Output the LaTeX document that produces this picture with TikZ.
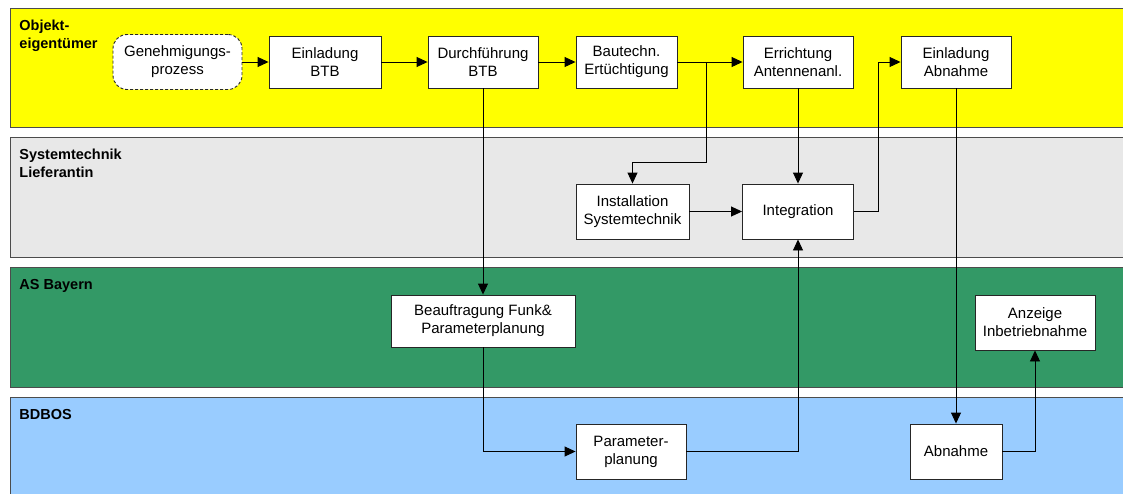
\documentclass[tikz,border=0pt]{standalone}
\usepackage{fontspec}
\setmainfont{Liberation Sans}
\usetikzlibrary{arrows.meta}

\definecolor{objekt}{HTML}{FFFF00}
\definecolor{system}{HTML}{E8E8E8}
\definecolor{asbayern}{HTML}{339966}
\definecolor{bdbos}{HTML}{99CCFF}

\begin{document}
\begin{tikzpicture}[x=1pt, y=-1pt, line width=0.9pt, >={Triangle[length=11pt,width=10pt]},
	box/.style={draw=black!85, fill=white, align=center, inner sep=0pt, minimum height=55pt, font=\fontsize{15}{18}\selectfont},
	lane/.style={draw=black!70},
	lanetext/.style={anchor=north west, inner sep=0pt, align=left, font=\bfseries\fontsize{14.5}{18}\selectfont}]
	\useasboundingbox (0,0) rectangle (1123,493);
	\clip (0,0) rectangle (1123,493);
	\fill[white] (0,0) rectangle (1123,493);
	\draw[lane, fill=objekt] (10,8) rectangle (1130,127);
	\draw[lane, fill=system] (10,137) rectangle (1130,257);
	\draw[lane, fill=asbayern] (10,267) rectangle (1130,387);
	\draw[lane, fill=bdbos] (10,397) rectangle (1130,500);
	\node (Objekt) at (19,20) [lanetext] {Objekt-\\eigentümer};
	\node (System) at (19,149) [lanetext] {Systemtechnik\\Lieferantin};
	\node (ASBayern) at (19,279) [lanetext] {AS Bayern};
	\node (BDBOS) at (19,409) [lanetext] {BDBOS};
	\node (Genehmigung) at (177.5,62) [box, dash pattern=on 3pt off 2pt, rounded corners=14pt, minimum width=129pt] {Genehmigungs-\\prozess};
	\node (EinladungBTB) at (325,62) [box, minimum width=112pt, minimum height=52pt] {Einladung\\BTB}		edge[<-](Genehmigung);
	\node (Durchfuehrung) at (483,62) [box, minimum width=110pt, minimum height=52pt] {Durchführung\\BTB}		edge[<-](EinladungBTB);
	\node (Bautechn) at (626.5,62) [box, minimum width=101pt, minimum height=52pt] {Bautechn.\\Ertüchtigung}		edge[<-](Durchfuehrung);
	\node (Errichtung) at (798,62) [box, minimum width=110pt, minimum height=52pt] {Errichtung\\Antennenanl.}		edge[<-](Bautechn);
	\node (EinladungAbnahme) at (956,62) [box, minimum width=110pt, minimum height=52pt] {Einladung\\Abnahme};
		\node (Installation) at (632.5,211.5) [box, minimum width=113pt] {Installation\\Systemtechnik};
		\node (Integration) at (798,211.5) [box, minimum width=111pt] {Integration}		edge[<-](Errichtung)
			edge[<-](Installation);
	\node (Beauftragung) at (483,321) [box, minimum width=184pt, minimum height=52pt] {Beauftragung Funk\&\\Parameterplanung}		edge[<-](Durchfuehrung);
	\node (Anzeige) at (1035,322.5) [box, minimum width=120pt] {Anzeige\\Inbetriebnahme};
		\node (Parameter) at (631,451.5) [box, minimum width=110pt] {Parameter-\\planung};
		\node (Abnahme) at (956,451.5) [box, minimum width=92pt] {Abnahme}		edge[<-](EinladungAbnahme);
	\draw[->] (Bautechn.east) ++(29,0) -- ++(0,100) -| (Installation);
	\draw[->] (Integration.east) -- ++(24,0) |- (EinladungAbnahme.west);
	\draw[->] (Beauftragung) |- (Parameter);
	\draw[->] (Parameter) -| (Integration);
	\draw[->] (Abnahme) -| (Anzeige);
\end{tikzpicture}
\end{document}
